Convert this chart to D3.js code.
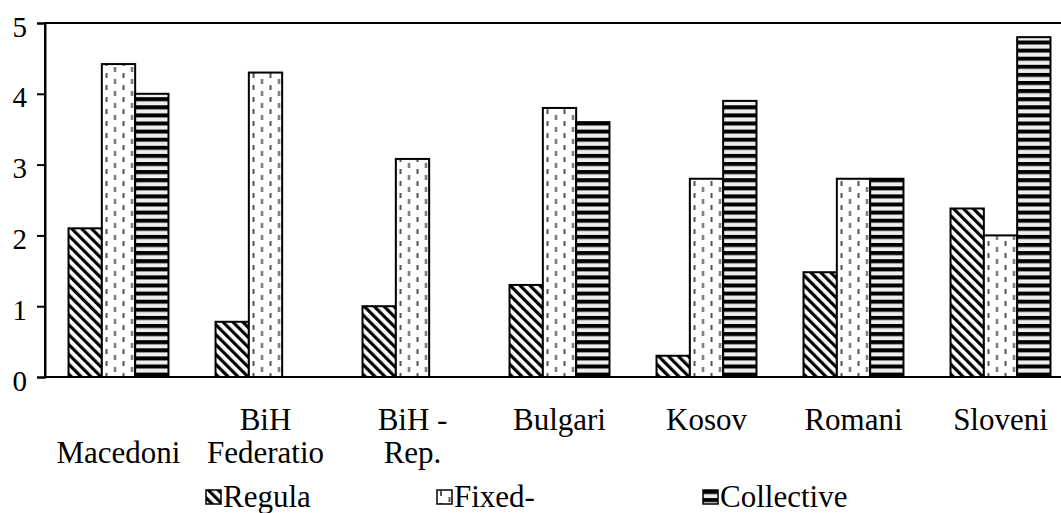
<!DOCTYPE html>
<html>
<head>
<meta charset="utf-8">
<script src="https://cdn.jsdelivr.net/npm/d3@7"></script>
<style>
  html, body { margin: 0; padding: 0; background: #fff; }
</style>
</head>
<body>
<div id="chart"></div>
<script>
// data
var categories = ["\nMacedoni", "BiH\nFederatio", "BiH -\nRep.", "Bulgari", "Kosov", "Romani", "Sloveni"];
var seriesNames = ["Regula", "Fixed-", "Collective"];
var regula = [2.1, 0.78, 1.0, 1.3, 0.3, 1.48, 2.38];
var fixed = [4.42, 4.3, 3.08, 3.8, 2.8, 2.8, 2.0];
var collective = [4.0, 0, 0, 3.6, 3.9, 2.8, 4.8];
var yTicks = [0, 1, 2, 3, 4, 5];

var width = 1061, height = 513;
var plotLeft = 45, plotRight = 1074, plotTop = 23, plotBottom = 377;
var serif = "'Liberation Serif', 'Times New Roman', Times, serif";

var svg = d3.select("#chart")
  .append("svg")
    .attr("width", width)
    .attr("height", height)
    .style("font-family", serif);

var defs = svg.append("defs");

// diagonal hatch for Regula
var pReg = defs.append("pattern")
  .attr("id", "pat-regula")
  .attr("patternUnits", "userSpaceOnUse")
  .attr("width", 7)
  .attr("height", 7)
  .attr("patternTransform", "rotate(-45)");
pReg.append("rect").attr("width", 7).attr("height", 7).attr("fill", "#fff");
pReg.append("rect").attr("x", 0).attr("width", 3.2).attr("height", 7).attr("fill", "#000");

// staggered vertical dashes for Fixed-
var pFix = defs.append("pattern")
  .attr("id", "pat-fixed")
  .attr("patternUnits", "userSpaceOnUse")
  .attr("width", 17)
  .attr("height", 12);
pFix.append("rect").attr("width", 17).attr("height", 12).attr("fill", "#fff");
pFix.append("rect").attr("x", 3).attr("y", 1).attr("width", 2).attr("height", 5).attr("fill", "#555");
pFix.append("rect").attr("x", 11.5).attr("y", 7).attr("width", 2).attr("height", 5).attr("fill", "#555");

// horizontal stripes for Collective
var pCol = defs.append("pattern")
  .attr("id", "pat-collective")
  .attr("patternUnits", "userSpaceOnUse")
  .attr("width", 8)
  .attr("height", 8.1);
pCol.append("rect").attr("width", 8).attr("height", 8.1).attr("fill", "#eee");
pCol.append("rect").attr("y", 0).attr("width", 8).attr("height", 4).attr("fill", "#000");

var fills = ["url(#pat-regula)", "url(#pat-fixed)", "url(#pat-collective)"];

var x0 = d3.scaleBand()
  .domain(d3.range(categories.length))
  .range([plotLeft, plotRight])
  .paddingInner(0.32)
  .paddingOuter(0.16);

var x1 = d3.scaleBand()
  .domain(d3.range(seriesNames.length))
  .range([0, x0.bandwidth()]);

var y = d3.scaleLinear()
  .domain([0, 5])
  .range([plotBottom, plotTop]);

// plot area border
svg.append("rect")
  .attr("x", plotLeft)
  .attr("y", plotTop)
  .attr("width", plotRight - plotLeft)
  .attr("height", plotBottom - plotTop)
  .attr("fill", "none")
  .attr("stroke", "#000")
  .attr("stroke-width", 2);

// bars
var table = categories.map(function(c, i){
  return [regula[i], fixed[i], collective[i]];
});

var groups = svg.selectAll(".group")
  .data(table)
  .enter().append("g")
    .attr("class", "group")
    .attr("transform", function(d, i){ return "translate(" + x0(i) + ",0)"; });

groups.selectAll("rect")
  .data(function(d){ return d.map(function(v, s){ return {v: v, s: s}; }).filter(function(e){ return e.v > 0; }); })
  .enter().append("rect")
    .attr("x", function(d){ return x1(d.s); })
    .attr("y", function(d){ return y(d.v); })
    .attr("width", x1.bandwidth())
    .attr("height", function(d){ return y(0) - y(d.v); })
    .attr("fill", function(d){ return fills[d.s]; })
    .attr("stroke", "#000")
    .attr("stroke-width", 2);

// y axis
var yAxis = svg.append("g")
  .attr("transform", "translate(" + plotLeft + ",0)")
  .call(d3.axisLeft(y).tickValues(yTicks).tickSize(8).tickPadding(10).tickFormat(d3.format("d")));
yAxis.attr("font-family", null).attr("font-size", null);
yAxis.select(".domain").attr("stroke", "#000").attr("stroke-width", 2);
yAxis.selectAll(".tick line").attr("stroke", "#000").attr("stroke-width", 2);
yAxis.selectAll(".tick text")
  .style("font-family", serif)
  .attr("font-size", 29)
  .attr("fill", "#000")
  .attr("dy", "0.45em");

// category labels, two lines
var lineY = [430, 463];
categories.forEach(function(c, i){
  var lines = c.split("\n");
  lines.forEach(function(t, k){
    if(t === "") return;
    svg.append("text")
      .attr("x", x0(i) + x0.bandwidth() / 2)
      .attr("y", lineY[k])
      .attr("text-anchor", "middle")
      .attr("font-size", 31)
      .style("font-family", serif)
      .text(t);
  });
});

// legend
var legendX = [206, 437, 703];
var legend = svg.selectAll(".legend")
  .data(seriesNames)
  .enter().append("g")
    .attr("class", "legend")
    .attr("transform", function(d, i){ return "translate(" + legendX[i] + ",490)"; });

legend.append("rect")
  .attr("width", 15)
  .attr("height", 14)
  .attr("fill", function(d, i){ return fills[i]; })
  .attr("stroke", "#000")
  .attr("stroke-width", 1.5);

legend.append("text")
  .attr("x", 17)
  .attr("y", 17)
  .attr("font-size", 31)
  .style("font-family", serif)
  .text(function(d){ return d; });
</script>
</body>
</html>
